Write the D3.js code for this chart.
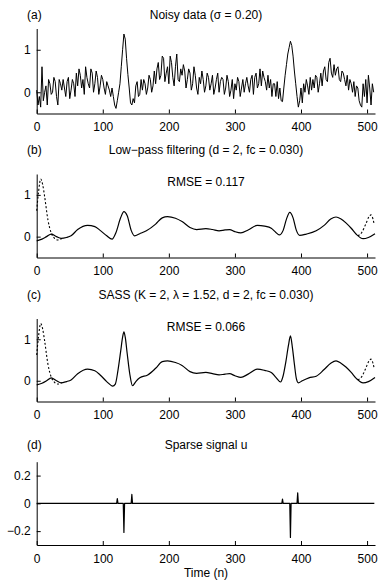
<!DOCTYPE html>
<html>
<head>
<meta charset="utf-8">
<script src="https://cdn.jsdelivr.net/npm/d3@7"></script>
<style>
  body { margin: 0; background: #fff; }
  svg { display: block; font-family: "Liberation Sans", Arial, Helvetica, sans-serif; }
  .axis text { font-size: 12px; fill: #000; }
  .axis path, .axis line { stroke: #000; stroke-width: 1; }
  .label { font-size: 12px; fill: #000; }
</style>
</head>
<body>
<svg width="380" height="582"></svg>
<script>

// (a) noisy data, read every second sample (n = 0, 2, 4, ... 510)
let noisy = [
  0.05, -0.3, -0.1, -0.35, 0.6, -0.2, 0.0, 0.15, -0.3, 0.3,
  0.2, -0.05, 0.0, 0.35, 0.25, -0.1, -0.3, 0.3, 0.2, 0.05,
  0.3, 0.1, -0.1, 0.25, 0.35, -0.15, 0.05, 0.3, 0.2, -0.1,
  0.45, 0.15, 0.55, 0.4, 0.1, 0.3, -0.05, 0.6, 0.35, 0.2,
  0.1, 0.55, 0.45, 0.0, 0.2, 0.5, 0.35, -0.05, 0.15, 0.4,
  0.3, 0.1, -0.05, 0.25, 0.15, 0.05, -0.1, 0.1, -0.1, -0.3,
  -0.38, -0.2, 0.0, 0.2, 0.6, 1.0, 1.37, 1.25, 0.8, 0.42,
  0.1, -0.25, -0.3, -0.15, -0.25, 0.15, 0.25, -0.1, -0.05, 0.3,
  0.05, 0.3, 0.2, -0.05, 0.1, 0.4, 0.3, 0.0, 0.15, 0.5,
  0.2, 0.55, 0.7, 0.3, 0.4, 0.85, 0.8, 0.25, 0.45, 0.6,
  0.2, 0.85, 0.7, 0.35, 0.15, 0.6, 0.9, 0.3, 0.25, 0.55,
  0.4, 0.65, 0.5, 0.1, 0.3, 0.55, 0.45, 0.05, 0.2, 0.6,
  0.4, 0.1, -0.05, 0.35, 0.2, 0.5, 0.3, 0.0, 0.15, 0.45,
  0.35, 0.05, 0.2, 0.4, -0.05, 0.1, 0.3, 0.45, 0.0, 0.25,
  0.35, 0.3, -0.05, 0.1, 0.4, 0.25, -0.1, 0.05, 0.3, -0.15,
  0.2, 0.05, 0.35, 0.25, -0.1, 0.1, 0.3, 0.0, 0.2, 0.35,
  0.15, 0.0, 0.3, 0.4, -0.05, 0.35, 0.45, 0.1, 0.2, 0.55,
  0.15, 0.5, 0.35, 0.25, 0.05, 0.4, 0.1, 0.3, -0.1, 0.2,
  0.2, -0.1, 0.25, -0.15, 0.1, -0.2, -0.22, 0.1, 0.4, 0.65,
  0.9, 1.05, 1.2, 1.1, 0.85, 0.5, 0.2, -0.1, -0.35, -0.2,
  0.1, -0.25, 0.2, 0.0, 0.3, 0.15, -0.05, 0.35, 0.05, 0.3,
  0.1, 0.4, 0.35, 0.0, 0.2, 0.45, 0.15, 0.5, 0.6, 0.3,
  0.25, 0.7, 0.8, 0.45, 0.35, 0.65, 0.4, 0.55, 0.6, 0.3,
  0.25, 0.5, 0.45, 0.3, 0.15, 0.4, 0.05, 0.3, 0.2, 0.0,
  0.25, -0.1, 0.15, 0.1, -0.2, -0.3, -0.35, 0.2, -0.1, 0.3,
  -0.25, 0.4, 0.1, -0.3, 0.2, 0.0
];

// (b) low-pass filter output (solid)
let lowpassN = [0, 8, 15, 22, 30, 37, 45, 52, 62, 77, 88, 96, 106, 114, 120, 127, 132, 137, 143, 148,
  156, 166, 180, 190, 198, 210, 220, 232, 242, 256, 266, 276, 285, 292, 300, 309, 320, 334, 345, 355,
  362, 367, 373, 378, 383, 388, 393, 398, 408, 423, 435, 445, 453, 460, 468, 476, 484, 494, 502, 512];
let lowpassY = [-0.1, -0.06, 0.0, 0.06, 0.0, -0.04, -0.02, 0.02, 0.17, 0.27, 0.24, 0.15, 0.02, -0.06, 0.1, 0.45, 0.6, 0.5, 0.15, 0.02,
  0.07, 0.14, 0.3, 0.45, 0.48, 0.44, 0.36, 0.22, 0.17, 0.19, 0.17, 0.14, 0.16, 0.17, 0.12, 0.09, 0.16, 0.27, 0.25, 0.2,
  0.1, 0.04, 0.15, 0.42, 0.58, 0.45, 0.15, 0.03, 0.06, 0.14, 0.27, 0.42, 0.47, 0.43, 0.33, 0.2, 0.05, -0.05, -0.02, 0.07];

// (c) SASS output (solid)
let sassN = [0, 8, 15, 22, 30, 37, 45, 52, 62, 77, 88, 96, 106, 115, 119, 123, 127, 130, 132, 134,
  137, 141, 145, 150, 156, 168, 180, 190, 198, 210, 220, 232, 242, 256, 266, 276, 285, 292, 300, 309,
  320, 334, 345, 355, 362, 369, 373, 377, 381, 384, 387, 390, 393, 396, 402, 412, 423, 435, 445, 453,
  460, 468, 476, 484, 494, 502, 512];
let sassY = [-0.1, -0.06, 0.0, 0.07, 0.0, -0.05, -0.02, 0.02, 0.17, 0.28, 0.24, 0.14, -0.02, -0.13, -0.08, 0.25, 0.7, 1.05, 1.18, 1.05,
  0.65, 0.15, -0.12, -0.02, 0.07, 0.14, 0.3, 0.46, 0.48, 0.44, 0.37, 0.22, 0.18, 0.2, 0.17, 0.14, 0.16, 0.17, 0.12, 0.08,
  0.16, 0.28, 0.25, 0.2, 0.08, -0.03, 0.12, 0.45, 0.85, 1.08, 0.8, 0.4, 0.05, -0.05, 0.0, 0.07, 0.11, 0.27, 0.42, 0.48,
  0.43, 0.33, 0.2, 0.05, -0.05, -0.02, 0.08];

// dashed reference curve, only where it leaves the solid one
let dashHeadN = [0, 3, 6, 9, 12, 17, 22, 27, 32, 38];
let dashHeadY = [0.62, 1.1, 1.38, 1.25, 0.96, 0.4, 0.09, -0.04, -0.08, -0.045];
let dashTailN = [486, 492, 498, 503, 506, 509, 511];
let dashTailY = [0.02, 0.1, 0.3, 0.48, 0.52, 0.42, 0.28];

// (d) sparse signal u, non-zero samples
let spikeN = [122, 132, 144, 372, 384, 395];
let spikeU = [0.034, -0.21, 0.064, 0.03, -0.245, 0.076];

let xTicks = [0, 100, 200, 300, 400, 500];

let svg = d3.select('svg');

// shared x scale
let x = d3.scaleLinear().domain([0, 512]).range([36.7, 375]);

let pairs = (ns, vs) => ns.map((n, i) => [n, vs[i]]);

function drawPanel(p) {
	let y = d3.scaleLinear().domain(p.yDomain).range([p.bottom, p.top]);
	let g = svg.append('g');

	// add X axis
	g.append('g')
		.attr('class', 'axis')
		.attr('transform', `translate(0,${p.bottom})`)
		.call(d3.axisBottom(x).tickValues(xTicks).tickSizeInner(-4).tickSizeOuter(0).tickPadding(9));

	// add Y axis
	g.append('g')
		.attr('class', 'axis')
		.attr('transform', `translate(${x(0)},0)`)
		.call(d3.axisLeft(y).tickValues(p.yTicks).tickSizeInner(-4).tickSizeOuter(0).tickPadding(6).tickFormat(d3.format('')));

	g.selectAll('.axis text').attr('font-family', null);

	p.lines.forEach(l => {
		let line = d3.line()
			.x(d => x(d[0]))
			.y(d => y(d[1]))
			.curve(l.curve || d3.curveLinear);
		g.append('path')
			.attr('fill', 'none')
			.attr('stroke', '#000')
			.attr('stroke-width', l.width)
			.attr('stroke-dasharray', l.dash || null)
			.attr('stroke-linejoin', 'round')
			.attr('d', line(l.data));
	});

	// panel letter and title
	g.append('text').attr('class', 'label').attr('x', 27).attr('y', p.titleY).text(p.letter);
	p.titles.forEach((t, i) => {
		g.append('text')
			.attr('class', 'label')
			.attr('x', 206)
			.attr('y', p.titleY + i * 32)
			.attr('text-anchor', 'middle')
			.text(t);
	});
}

// build sparse signal line with zero samples around the spikes
let sparse = [[0, 0]];
spikeN.forEach((n, i) => {
	sparse.push([n - 1, 0], [n, spikeU[i]], [n + 1, 0]);
});
sparse.push([511, 0]);

let dashed = [
	{ data: pairs(dashHeadN, dashHeadY), width: 1.1, dash: '2,2', curve: d3.curveMonotoneX },
	{ data: pairs(dashTailN, dashTailY), width: 1.1, dash: '2,2', curve: d3.curveMonotoneX }
];

drawPanel({
	letter: '(a)', titles: ['Noisy data (σ = 0.20)'], titleY: 19,
	top: 28.5, bottom: 113.5, yDomain: [-0.5, 1.5], yTicks: [0, 1],
	lines: [{ data: noisy.map((v, i) => [i * 2, v]), width: 1 }]
});

drawPanel({
	letter: '(b)', titles: ['Low\u2212pass filtering (d = 2, fc = 0.030)', 'RMSE = 0.117'], titleY: 154,
	top: 174, bottom: 257.5, yDomain: [-0.5, 1.5], yTicks: [0, 1],
	lines: dashed.concat([{ data: pairs(lowpassN, lowpassY), width: 1.2, curve: d3.curveMonotoneX }])
});

drawPanel({
	letter: '(c)', titles: ['SASS (K = 2, λ = 1.52, d = 2, fc = 0.030)', 'RMSE = 0.066'], titleY: 299,
	top: 318.5, bottom: 401.5, yDomain: [-0.5, 1.5], yTicks: [0, 1],
	lines: dashed.concat([{ data: pairs(sassN, sassY), width: 1.2, curve: d3.curveMonotoneX }])
});

drawPanel({
	letter: '(d)', titles: ['Sparse signal u'], titleY: 449,
	top: 461.7, bottom: 545, yDomain: [-0.3, 0.3], yTicks: [-0.2, 0, 0.2],
	lines: [{ data: sparse, width: 1.2 }]
});

// x label
svg.append('text')
	.attr('class', 'label')
	.attr('x', 206)
	.attr('y', 577)
	.attr('text-anchor', 'middle')
	.text('Time (n)');

</script>
</body>
</html>
